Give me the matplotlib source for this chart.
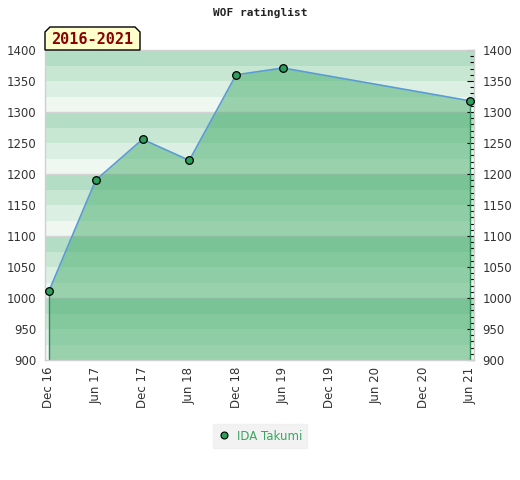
import matplotlib
matplotlib.use("Agg")
import matplotlib.pyplot as plt
from matplotlib.patches import Polygon
from matplotlib.lines import Line2D
from matplotlib.ticker import MultipleLocator

# ---- data ----
dates = ["2016-12", "2017-06", "2017-12", "2018-06", "2018-12", "2019-06", "2021-06"]
ratings = [1011, 1190, 1256, 1222, 1360, 1371, 1318]
tick_dates = ["2016-12", "2017-06", "2017-12", "2018-06", "2018-12",
              "2019-06", "2019-12", "2020-06", "2020-12", "2021-06"]
tick_labels = ["Dec 16", "Jun 17", "Dec 17", "Jun 18", "Dec 18",
               "Jun 19", "Dec 19", "Jun 20", "Dec 20", "Jun 21"]
series_name = "IDA Takumi"
title = "WOF ratinglist"
period_label = "2016-2021"


def month_index(s):
    y, m = s.split("-")
    return (int(y) - 2016) * 12 + int(m) - 12


x = [month_index(d) for d in dates]
xt = [month_index(d) for d in tick_dates]

W, H = 520, 480
fig = plt.figure(figsize=(W / 100, H / 100), dpi=100)
ax = fig.add_axes([45 / W, 1 - 360 / H, (474 - 45) / W, (360 - 50) / H])

ymin, ymax = 900, 1400
ax.set_xlim(-0.5, 54.5)
ax.set_ylim(ymin, ymax)

# background bands
band_colors = ["#b3ddc4", "#c8e7d3", "#dcefe3", "#eff7f1"]
v = ymax
i = 0
while v > ymin:
    ax.axhspan(v - 25, v, color=band_colors[i % 4], lw=0, zorder=0)
    v -= 25
    i += 1
for g in range(1000, 1400, 100):
    ax.axhline(g, color="#d4d4d4", lw=1, zorder=0.5)

# area fill
ax.fill_between(x, ratings, ymin, color="#3ba864", alpha=0.48, lw=0, zorder=1)
ax.vlines([x[0], x[-1]], ymin, [ratings[0], ratings[-1]], color="#2e8b57", lw=1, zorder=2)
ax.plot(x, ratings, color="#5b9bd5", lw=1.2, zorder=3)
ax.plot(x, ratings, ls="none", marker="o", ms=5.5, mfc="#2e9e5b", mec="black",
        mew=0.9, zorder=4, clip_on=False)

# axes styling
for s in ax.spines.values():
    s.set_color("#d0d0d0")
    s.set_linewidth(1)
ax.set_xticks(xt)
ax.set_xticklabels(tick_labels, rotation=90, fontsize=8.5, color="#333333")
ax.yaxis.set_major_locator(MultipleLocator(50))
ax.yaxis.set_minor_locator(MultipleLocator(10))
ax.tick_params(axis="x", length=0, pad=5)
ax.tick_params(axis="y", which="both", left=False, right=True, labelleft=True,
               labelright=True, direction="in", labelsize=8.5, labelcolor="#333333",
               pad=6, color="black")
ax.tick_params(axis="y", which="major", length=5, width=0.8)
ax.tick_params(axis="y", which="minor", length=3, width=0.8)

# title
fig.text(0.5, 1 - 13 / H, title, ha="center", va="center", fontsize=8,
         family="DejaVu Sans Mono", fontweight="bold", color="#222222")

# period label box with clipped top corners
x0, x1, yb, yt, c = 45, 140, 50, 27, 5
pts = [(x0, yb), (x0, yt + c), (x0 + c, yt), (x1 - c, yt), (x1, yt + c), (x1, yb)]
pts = [(px / W, 1 - py / H) for px, py in pts]
fig.patches.append(Polygon(pts, closed=True, facecolor="#ffffcc", edgecolor="black",
                           lw=1, transform=fig.transFigure, zorder=5))
fig.text((x0 + x1) / 2 / W, 1 - 40 / H, period_label, ha="center", va="center",
         fontsize=11, family="DejaVu Sans Mono", fontweight="bold",
         color="#8b0000", zorder=6)

# legend
handle = Line2D([], [], ls="none", marker="o", ms=5, mfc="#2e9e5b", mec="black", mew=0.8)
leg = fig.legend([handle], [series_name], loc="center", bbox_to_anchor=(0.5, 1 - 436 / H),
                 frameon=True, fontsize=8.5, handlelength=1, handletextpad=0.6,
                 borderpad=0.45, fancybox=False)
leg.get_frame().set_facecolor("#efefef")
leg.get_frame().set_edgecolor("#efefef")
for t in leg.get_texts():
    t.set_color("#3aa660")

fig.savefig("out.png", dpi=100)
